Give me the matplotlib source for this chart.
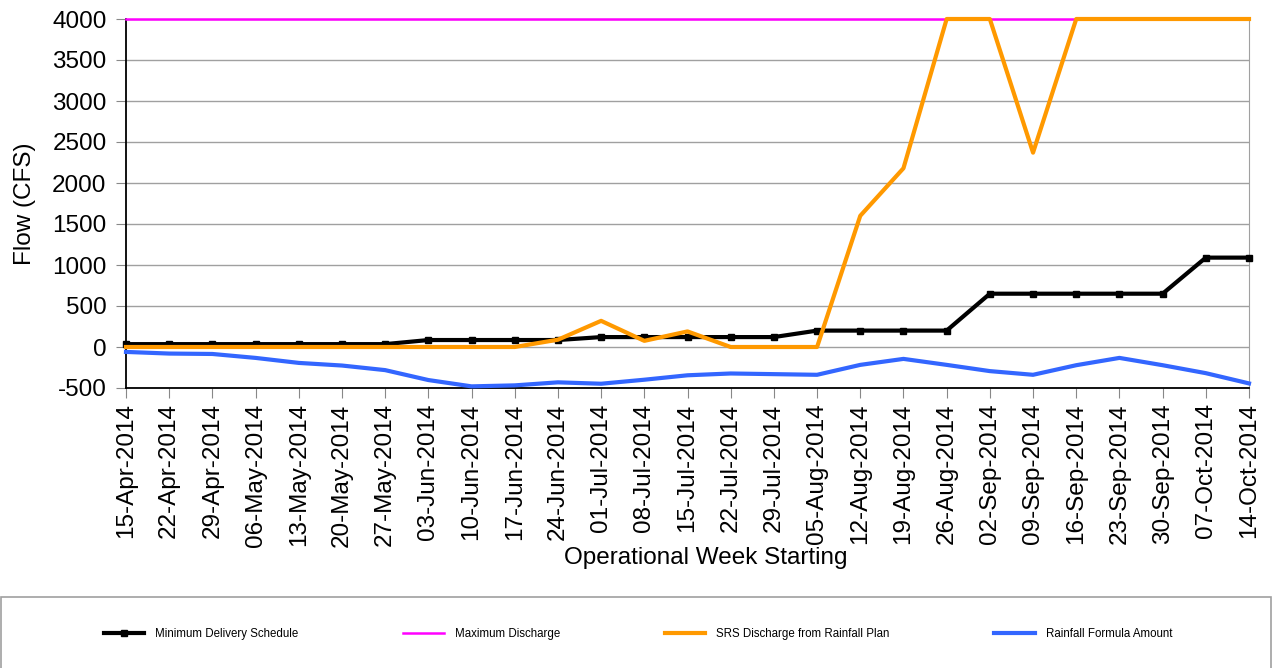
import matplotlib
matplotlib.use("Agg")
import matplotlib.pyplot as plt
from matplotlib.patches import Rectangle

plt.rcParams['font.family'] = ['Liberation Sans', 'DejaVu Sans']
plt.rcParams['axes.unicode_minus'] = False

# Minggu operasional (label sumbu x)
weeks = ['15-Apr-2014', '22-Apr-2014', '29-Apr-2014', '06-May-2014', '13-May-2014',
         '20-May-2014', '27-May-2014', '03-Jun-2014', '10-Jun-2014', '17-Jun-2014',
         '24-Jun-2014', '01-Jul-2014', '08-Jul-2014', '15-Jul-2014', '22-Jul-2014',
         '29-Jul-2014', '05-Aug-2014', '12-Aug-2014', '19-Aug-2014', '26-Aug-2014',
         '02-Sep-2014', '09-Sep-2014', '16-Sep-2014', '23-Sep-2014', '30-Sep-2014',
         '07-Oct-2014', '14-Oct-2014']

# Nilai tiap seri (CFS)
min_delivery = [35, 35, 35, 35, 35, 35, 35, 85, 85, 85, 85, 121, 121, 121, 121,
                121, 200, 200, 200, 200, 650, 650, 650, 650, 650, 1090, 1090]
max_discharge = [4000] * 27
srs_discharge = [0, 0, 0, 0, 0, 0, 0, 0, 0, 0, 89, 319, 75, 190, 0,
                 0, 0, 1600, 2180, 4000, 4000, 2370, 4000, 4000, 4000, 4000, 4000]
rainfall = [-60, -80, -85, -133, -194, -226, -282, -403, -480, -468, -431, -448, -399, -345, -323,
            -331, -339, -218, -145, -218, -294, -339, -222, -133, -222, -319, -444]

x = list(range(len(weeks)))

fig = plt.figure(figsize=(12.78, 6.68), dpi=100)
ax = fig.add_axes([126/1278, 1 - 388/668, (1249 - 126)/1278, (388 - 19)/668])

ax.plot(x, min_delivery, color='black', lw=3, marker='s', markersize=4.5,
        label='Minimum Delivery Schedule', zorder=3, clip_on=False)
ax.plot(x, max_discharge, color='#FF00FF', lw=1.8, label='Maximum Discharge', zorder=3, clip_on=False)
ax.plot(x, srs_discharge, color='#FF9900', lw=3, label='SRS Discharge from Rainfall Plan',
        zorder=4, clip_on=False)
ax.plot(x, rainfall, color='#3366FF', lw=3, label='Rainfall Formula Amount', zorder=4, clip_on=False)

ax.set_xlim(0, len(weeks) - 1)
ax.set_ylim(-500, 4000)
ax.set_yticks(range(-500, 4001, 500))
ax.set_xticks(x)
ax.set_xticklabels(weeks, rotation=90, fontsize=17.5)
ax.tick_params(axis='y', labelsize=17.5, length=7, color='#888888', pad=7)
ax.tick_params(axis='x', length=7, color='#888888', pad=4)
ax.yaxis.grid(True, color='#A0A0A0', lw=1)
ax.set_axisbelow(True)

ax.spines['top'].set_visible(False)
ax.spines['right'].set_color('#A0A0A0')
ax.spines['left'].set_color('black')
ax.spines['bottom'].set_color('black')
ax.spines['left'].set_linewidth(1.3)
ax.spines['bottom'].set_linewidth(1.3)

ax.set_ylabel('Flow (CFS)', fontsize=17.5)
ax.yaxis.set_label_coords((36 - 126) / 1123, 0.5)
ax.set_xlabel('Operational Week Starting', fontsize=17.5, labelpad=0)
ax.xaxis.set_label_coords((706 - 126) / 1123, -0.432)

# Kotak legenda
fig.patches.append(Rectangle((1/1278, -0.01), 1270/1278, 1 - 597/668 + 0.01,
                             transform=fig.transFigure, fill=False,
                             edgecolor='#A0A0A0', lw=1.2))
fig.legend(loc='center', bbox_to_anchor=(638/1278, 1 - 634/668), ncol=4, frameon=False,
           fontsize=8.3, columnspacing=9.1, handlelength=3.5, handletextpad=0.95)

plt.savefig('out.png', dpi=100)
